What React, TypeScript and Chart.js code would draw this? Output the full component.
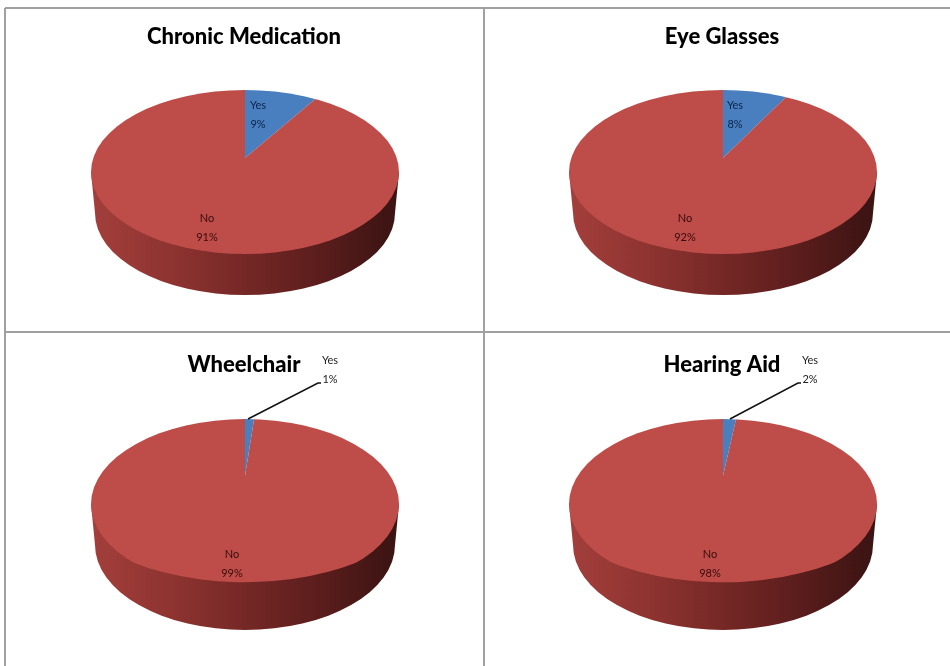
import React, { useEffect, useRef } from "react";
import { Chart, registerables } from "chart.js";

Chart.register(...registerables);

const categories = ["Yes", "No"];
const chronicValues = [9, 91];
const glassesValues = [8, 92];
const wheelchairValues = [1.4, 98.6];
const hearingValues = [2, 98];
const titles = ["Chronic Medication", "Eye Glasses", "Wheelchair", "Hearing Aid"];
const sliceColors = ["#4A7FBF", "#BE4D4A"];

const CW = 478;
const CH = 320;

type Panel = {
  title: string;
  values: number[];
  titleX: number;
  top: number;
  cx: number;
  cy: number;
  ry: number;
  depth: number;
  shift: number;
  yesAt: [number, number];
  noAt: [number, number];
  leader?: [number, number, number, number];
};

const panels: Panel[] = [
  { title: titles[0], values: chronicValues, titleX: 244, top: 8, cx: 245, cy: 172, ry: 82, depth: 41, shift: 14, yesAt: [258, 105], noAt: [207, 218] },
  { title: titles[1], values: glassesValues, titleX: 722, top: 8, cx: 723, cy: 172, ry: 82, depth: 41, shift: 14, yesAt: [735, 105], noAt: [685, 218] },
  { title: titles[2], values: wheelchairValues, titleX: 244, top: 336, cx: 245, cy: 504, ry: 85, depth: 41, shift: 28, yesAt: [330, 360], noAt: [232, 554], leader: [248, 419, 318, 383] },
  { title: titles[3], values: hearingValues, titleX: 722, top: 336, cx: 723, cy: 504, ry: 85, depth: 41, shift: 28, yesAt: [810, 360], noAt: [710, 554], leader: [730, 419, 798, 383] },
];

const RX = 154;
const OVER = 1.25;

function makePlugin(p: Panel) {
  const left = p.titleX - CW / 2;
  return {
    id: "tilt",
    beforeDatasetsDraw(chart: any) {
      const arc = chart.getDatasetMeta(0).data[0];
      const ctx = chart.ctx;
      const cx = p.cx - left;
      const cy = p.cy - p.top;
      const g = ctx.createLinearGradient(cx - RX, 0, cx + RX, 0);
      g.addColorStop(0, "#a33f3c");
      g.addColorStop(0.25, "#8f3431");
      g.addColorStop(0.5, "#752826");
      g.addColorStop(0.75, "#5a1d1c");
      g.addColorStop(0.95, "#3f1514");
      g.addColorStop(1, "#3a1413");
      ctx.save();
      ctx.fillStyle = g;
      ctx.beginPath();
      ctx.moveTo(cx - RX, cy);
      ctx.lineTo(cx - RX + 4, cy + p.depth);
      ctx.ellipse(cx, cy + p.depth, RX - 4, p.ry, 0, Math.PI, 0, true);
      ctx.lineTo(cx + RX, cy);
      ctx.closePath();
      ctx.fill();
      ctx.beginPath();
      ctx.ellipse(cx, cy, RX, p.ry, 0, 0, Math.PI * 2);
      ctx.clip();
      ctx.translate(cx, cy - p.shift);
      ctx.scale((OVER * RX) / arc.outerRadius, (OVER * p.ry) / arc.outerRadius);
      ctx.translate(-arc.x, -arc.y);
    },
    afterDatasetsDraw(chart: any) {
      const ctx = chart.ctx;
      ctx.restore();
      const put = (i: number, at: [number, number], color: string) => {
        ctx.fillStyle = color;
        ctx.font = "11px Lato";
        ctx.textAlign = "center";
        ctx.textBaseline = "middle";
        ctx.fillText(categories[i], at[0] - left, at[1] - p.top);
        ctx.fillText(`${Math.round(p.values[i])}%`, at[0] - left, at[1] + 19 - p.top);
      };
      if (p.leader) {
        const [x0, y0, x1, y1] = p.leader;
        ctx.strokeStyle = "#111111";
        ctx.lineWidth = 1.5;
        ctx.beginPath();
        ctx.moveTo(x0 - left, y0 - p.top);
        ctx.lineTo(x1 - left, y1 - p.top);
        ctx.lineTo(x1 + 3 - left, y1 - p.top);
        ctx.stroke();
        put(0, p.yesAt, "#222222");
      } else {
        put(0, p.yesAt, "#0a2348");
      }
      put(1, p.noAt, "#360c0b");
    },
  };
}

function PieCanvas({ panel }: { panel: Panel }) {
  const ref = useRef<HTMLCanvasElement | null>(null);
  useEffect(() => {
    const chart = new Chart(ref.current as HTMLCanvasElement, {
      type: "pie",
      data: {
        labels: categories,
        datasets: [
          {
            data: panel.values,
            backgroundColor: sliceColors,
            borderWidth: 0,
            clip: false,
          } as any,
        ],
      },
      options: {
        responsive: false,
        animation: false,
        layout: { padding: 0 },
        plugins: {
          legend: { display: false },
          tooltip: { enabled: false },
          title: {
            display: true,
            text: panel.title,
            color: "#000000",
            font: { family: "Lato", size: 22, weight: "900" },
            padding: { top: 16, bottom: 6 },
          },
        },
      },
      plugins: [makePlugin(panel)],
    } as any);
    return () => chart.destroy();
  }, [panel]);
  return (
    <canvas
      ref={ref}
      width={CW}
      height={CH}
      style={{
        position: "absolute",
        left: panel.titleX - CW / 2,
        top: panel.top,
        width: CW,
        height: CH,
      }}
    />
  );
}

const lineColor = "#a0a0a0";
const rules: React.CSSProperties[] = [
  { left: 5, top: 7, width: 945, height: 2 },
  { left: 5, top: 331, width: 945, height: 2 },
  { left: 4, top: 8, width: 2, height: 658 },
  { left: 483, top: 8, width: 2, height: 658 },
];

export default function App() {
  return (
    <div
      style={{
        position: "absolute",
        left: 0,
        top: 0,
        width: 950,
        height: 666,
        overflow: "hidden",
        background: "#ffffff",
        filter: "blur(0.6px)",
      }}
    >
      {rules.map((r, i) => (
        <div key={i} style={{ position: "absolute", background: lineColor, ...r }} />
      ))}
      {panels.map((p) => (
        <PieCanvas key={p.title} panel={p} />
      ))}
    </div>
  );
}
